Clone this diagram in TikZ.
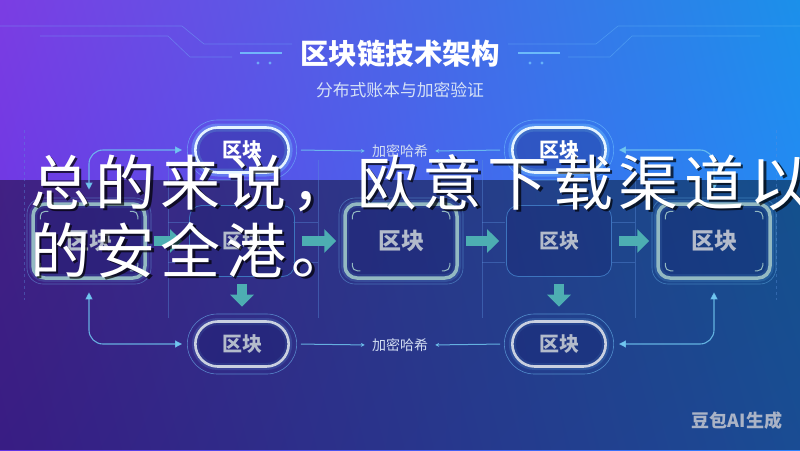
\documentclass[tikz,border=0pt]{standalone}
\usepackage{fontspec}
\newfontfamily\cjk{Noto Sans CJK SC}
\newfontfamily\cjkcap[LetterSpace=9]{Noto Sans CJK SC}
\usetikzlibrary{arrows.meta,shapes.misc,shadings}

\definecolor{bgTL}{HTML}{7B3DE3}
\definecolor{bgTR}{HTML}{1B90EA}
\definecolor{bgBL}{HTML}{6232E4}
\definecolor{bgBR}{HTML}{2D84FF}
\definecolor{glowblue}{HTML}{78CCFF}
\definecolor{rimwhite}{HTML}{E4F4FF}
\definecolor{rimgray}{HTML}{C9D0E0}
\definecolor{linkblue}{HTML}{70C6F0}
\definecolor{arrowteal}{HTML}{4DAEB2}
\definecolor{boxrim}{HTML}{93B9C2}
\definecolor{celledge}{HTML}{3D74BE}
\definecolor{boxtext}{HTML}{B3BBCB}
\definecolor{deepblue}{HTML}{121A66}
\definecolor{hashtext}{HTML}{D2DDF2}
\definecolor{subtext}{HTML}{D6E2F6}
\definecolor{marktext}{HTML}{AAB3C6}
\definecolor{gridblue}{HTML}{5A8EDC}

\begin{document}
\begin{tikzpicture}[x=1pt,y=-1pt,
    pill/.style={rounded rectangle, line width=2.6pt, fill=deepblue, fill opacity=0.3, text opacity=1,
      minimum width=100pt, minimum height=45pt, font=\cjk\bfseries\fontsize{20}{24}\selectfont},
    pilltop/.style={pill, draw=rimwhite, text=white, preaction={draw=glowblue, line width=8pt, draw opacity=0.35}},
    pilllow/.style={pill, draw=rimgray, text=boxtext, preaction={draw=glowblue, line width=7pt, draw opacity=0.15}},
    halo/.style={rounded rectangle, draw=glowblue, line width=0.6pt, draw opacity=0.55, minimum width=116pt, minimum height=60pt},
    blk/.style={rectangle, rounded corners=12pt, draw=boxrim, line width=3.5pt, fill=deepblue, fill opacity=0.3, text opacity=1,
      text=boxtext, minimum width=112pt, minimum height=74pt, font=\cjk\bfseries\fontsize{23}{28}\selectfont,
      preaction={draw=glowblue, line width=8pt, draw opacity=0.15}},
    blkhalo/.style={rectangle, rounded corners=16pt, draw=glowblue, line width=0.6pt, draw opacity=0.4, minimum width=124pt, minimum height=86pt},
    cell/.style={rectangle, rounded corners=12pt, draw=celledge, line width=0.8pt, fill=deepblue, fill opacity=0.25, text opacity=1,
      text=boxtext, minimum width=105pt, minimum height=71pt, font=\cjk\bfseries\fontsize{20}{24}\selectfont},
    fat/.style={draw=arrowteal, line width=10pt, -{Triangle[length=12pt,width=23pt]}, shorten <=7pt, shorten >=7pt},
    link/.style={draw=linkblue, line width=1.1pt, draw opacity=0.85, rounded corners=14pt, >={Triangle[length=7pt,width=7pt]}},
    hashlink/.style={draw=linkblue, line width=1pt, draw opacity=0.85, ->, >={Stealth[length=4pt,width=4pt]}},
    hash/.style={text=hashtext, font=\cjk\fontsize{14}{17}\selectfont, inner sep=3pt},
    faint/.style={draw=gridblue, line width=0.6pt, draw opacity=0.4},
    deco/.style={draw=glowblue, line width=0.6pt, draw opacity=0.35},
    cornermk/.style={draw=boxrim, line width=1pt, rounded corners=5pt},
    ovl/.style={anchor=west, inner sep=0pt, font=\cjkcap\fontsize{60}{66}\selectfont}
  ]
  \useasboundingbox (0,0) rectangle (800,450);
  \clip (0,0) rectangle (800,450);
  \shade[upper left=bgTL, upper right=bgTR, lower left=bgBL, lower right=bgBR] (0,0) rectangle (800,450);
  \fill[black, opacity=0.42] (0,180) rectangle (800,450);

  % title decoration, both sides
  \foreach \m/\k in {0/1,800/-1}{
    \begin{scope}[xshift=\m pt, xscale=\k]
      \draw[deco] (0,26) -- (182,26) -- (204,44) -- (292,44);
      \draw[deco] (40,36) -- (168,36) -- (190,57) -- (232,57);
      \draw[deco, line width=2pt, draw opacity=0.8] (240,53) -- (282,53);
      \fill[glowblue, opacity=0.7] (258,63) circle (1.6) (270,63) circle (1.6);
    \end{scope}
  }

  % faint grid behind the blocks
  \foreach \x in {168,318,482,635}
    \draw[faint] (\x,160) -- (\x,318);
  \foreach \y in {222,262}{
    \draw[faint] (168,\y) -- (190,\y) (293,\y) -- (318,\y);
    \draw[faint] (482,\y) -- (505,\y) (612,\y) -- (635,\y);
  }
  \draw[faint, dashed] (24,130) -- (24,300) (776,130) -- (776,300);

  \node[text=white, font=\cjk\bfseries\fontsize{28.5}{34}\selectfont] (title) at (400,54) {区块链技术架构};
  \node[text=subtext, font=\cjk\fontsize{16.8}{20}\selectfont] (subtitle) at (400,90) {分布式账本与加密验证};

  % pills
  \node[halo] (p1h) at (242,150) {};
  \node[pilltop] (p1) at (242,150) {区块};
  \node[halo] (p2h) at (559,150) {};
  \node[pilltop] (p2) at (559,150) {区块};
  \node[halo] (p3h) at (242,344) {};
  \node[pilllow] (p3) at (242,344) {区块};
  \node[halo] (p4h) at (559,344) {};
  \node[pilllow] (p4) at (559,344) {区块};

  % middle row
  \node[blkhalo] (b1h) at (89,241) {};
  \node[blk] (b1) at (89,241) {区块};
  \node[cell] (b2) at (242,241) {区块};
  \node[blkhalo] (b3h) at (401,241) {};
  \node[blk] (b3) at (401,241) {区块};
  \node[cell] (b4) at (559,241) {区块};
  \node[blkhalo] (b5h) at (714,241) {};
  \node[blk] (b5) at (714,241) {区块};

  \foreach \n in {b1,b3,b5}{
    \draw[cornermk] ([shift={(9,17)}]\n.north west) |- ([shift={(17,9)}]\n.north west);
    \draw[cornermk] ([shift={(-9,17)}]\n.north east) |- ([shift={(-17,9)}]\n.north east);
    \draw[cornermk] ([shift={(9,-17)}]\n.south west) |- ([shift={(17,-9)}]\n.south west);
    \draw[cornermk] ([shift={(-9,-17)}]\n.south east) |- ([shift={(-17,-9)}]\n.south east);
  }

  \foreach \a/\b in {b1/b2,b2/b3,b3/b4,b4/b5}
    \draw[fat] (\a.east) -- (\b.west);
  \draw[fat] (b2.south) -- (p3h.north);
  \draw[fat] (b4.south) -- (p4h.north);

  % side links
  \draw[link, <->, shorten <=8pt, shorten >=5pt] (b1h.north) |- (p1h.west);
  \draw[link, <->, shorten <=8pt, shorten >=5pt] (b5h.north) |- (p2h.east);
  \draw[link, <->, shorten <=8pt, shorten >=5pt] (b1h.south) |- (p3h.west);
  \draw[link, <->, shorten <=8pt, shorten >=5pt] (b5h.south) |- (p4h.east);

  % hash labels
  \node[hash] (hashTop) at (400,151) {加密哈希};
  \node[hash] (hashLow) at (400,345) {加密哈希};
  \draw[hashlink, shorten <=4pt, shorten >=4pt] (p1h.east) -- (hashTop.west);
  \draw[hashlink, shorten <=4pt, shorten >=4pt] (p2h.west) -- (hashTop.east);
  \draw[hashlink, shorten <=4pt, shorten >=4pt] (p3h.east) -- (hashLow.west);
  \draw[hashlink, shorten <=4pt, shorten >=4pt] (p4h.west) -- (hashLow.east);

  \node[text=marktext, font=\cjk\bfseries\fontsize{18}{22}\selectfont] (wmark) at (737,421) {豆包AI生成};

  % overlay caption
  \node[ovl, text=black, text opacity=0.7] (sayShA) at (32.5,185.5) {总的来说，欧意下载渠道以};
  \node[ovl, text=white] (sayA) at (30,183) {总的来说，欧意下载渠道以};
  \node[ovl, text=black, text opacity=0.7] (sayShB) at (32.5,252.5) {的安全港。};
  \node[ovl, text=white] (sayB) at (30,250) {的安全港。};
\end{tikzpicture}
\end{document}
